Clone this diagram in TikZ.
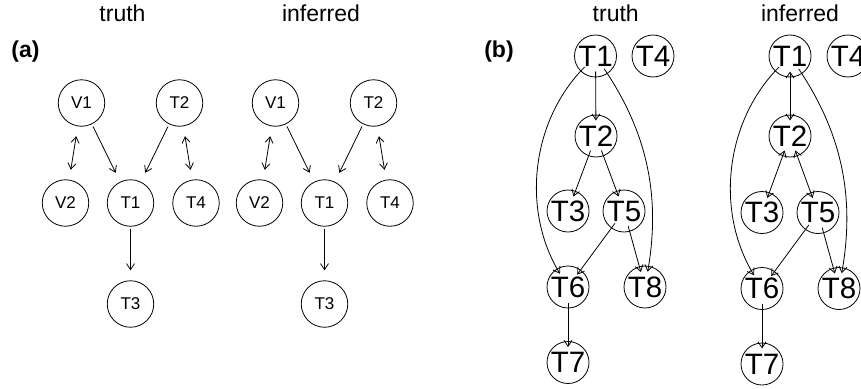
\documentclass[tikz,border=0pt]{standalone}
\usepackage{fontspec}
\setmainfont{Liberation Sans}
\usetikzlibrary{arrows.meta}
\tikzset{
  nda/.style={circle, draw, line width=0.8pt, minimum size=46.5pt, inner sep=0pt, font=\fontsize{17}{19}\selectfont},
  ndb/.style={circle, draw, line width=0.8pt, minimum size=42pt, inner sep=0pt, font=\fontsize{29.5}{31}\selectfont},
  barb/.tip={Straight Barb[length=6pt,width=8pt,line width=0.8pt]},
  ea/.style={line width=0.8pt, -barb, shorten <=2.5pt, shorten >=10pt},
  eaa/.style={line width=0.8pt, barb-barb, shorten <=10pt, shorten >=10pt},
  eb/.style={line width=0.8pt, -barb, shorten <=15.5pt, shorten >=15.5pt},
  ebb/.style={line width=0.8pt, barb-barb, shorten <=15.5pt, shorten >=15.5pt},
  ttl/.style={font=\fontsize{23}{25}\selectfont, anchor=base, inner sep=0pt},
  pnl/.style={font=\bfseries\fontsize{23}{25}\selectfont, anchor=base, inner sep=0pt}
}
\begin{document}
\begin{tikzpicture}[x=1pt,y=1pt]
\useasboundingbox (0,0) rectangle (861,-388);
% titles
\node[ttl] (ta) at (122.5,-21.7) {truth};
\node[ttl] (ia) at (321,-21.7) {inferred};
\node[ttl] (tb) at (615.7,-21.7) {truth};
\node[ttl] (ib) at (800,-21.7) {inferred};
\node[pnl] (pa) at (25.5,-57) {(a)};
\node[pnl] (pb) at (499,-57) {(b)};
% (a) truth
\node[nda] (aV1) at (81.5,-103) {V1};
\node[nda] (aT2) at (179.5,-103) {T2};
\node[nda] (aV2) at (65.5,-203) {V2};
\node[nda] (aT1) at (130.5,-203) {T1};
\node[nda] (aT4) at (196,-203) {T4};
\node[nda] (aT3) at (130.5,-304) {T3};
\draw[ea] (aV1) -- (aT1);
\draw[ea] (aT2) -- (aT1);
\draw[ea] (aT1) -- (aT3);
\draw[eaa] (aV1) -- (aV2);
\draw[eaa] (aT2) -- (aT4);
% (a) inferred
\node[nda] (iV1) at (275.5,-103) {V1};
\node[nda] (iT2) at (373.5,-103) {T2};
\node[nda] (iV2) at (259.5,-203) {V2};
\node[nda] (iT1) at (324.5,-203) {T1};
\node[nda] (iT4) at (390,-203) {T4};
\node[nda] (iT3) at (324.5,-304) {T3};
\draw[ea] (iV1) -- (iT1);
\draw[ea] (iT2) -- (iT1);
\draw[ea] (iT1) -- (iT3);
\draw[eaa] (iV1) -- (iV2);
\draw[eaa] (iT2) -- (iT4);
% (b) truth
\node[ndb] (bT1) at (595.5,-56) {T1};
\node[ndb] (bT4) at (653,-56) {T4};
\node[ndb] (bT2) at (596,-136) {T2};
\node[ndb] (bT3) at (568,-211) {T3};
\node[ndb] (bT5) at (624,-211) {T5};
\node[ndb] (bT6) at (568,-287) {T6};
\node[ndb] (bT8) at (645,-287) {T8};
\node[ndb] (bT7) at (568,-362.5) {T7};
\draw[eb] (bT1.center) -- (bT2.center);
\draw[eb] (bT2.center) -- (bT3.center);
\draw[eb] (bT2.center) -- (bT5.center);
\draw[eb] (bT5.center) -- (bT6.center);
\draw[eb] (bT5.center) -- (bT8.center);
\draw[eb] (bT6.center) -- (bT7.center);
\draw[eb] (bT1.center) to[bend right=38] (bT6.center);
\draw[eb] (bT1.center) to[bend left=22] (bT8.center);
% (b) inferred
\node[ndb] (cT1) at (790,-56) {T1};
\node[ndb] (cT4) at (848,-56) {T4};
\node[ndb] (cT2) at (790,-136) {T2};
\node[ndb] (cT3) at (762,-212.5) {T3};
\node[ndb] (cT5) at (818,-212.5) {T5};
\node[ndb] (cT6) at (762,-288.5) {T6};
\node[ndb] (cT8) at (839,-288.5) {T8};
\node[ndb] (cT7) at (762,-364) {T7};
\draw[ebb] (cT1.center) -- (cT2.center);
\draw[ebb] (cT2.center) -- (cT3.center);
\draw[ebb] (cT2.center) -- (cT5.center);
\draw[eb] (cT5.center) -- (cT6.center);
\draw[eb] (cT5.center) -- (cT8.center);
\draw[eb] (cT6.center) -- (cT7.center);
\draw[eb] (cT1.center) to[bend right=38] (cT6.center);
\draw[eb] (cT1.center) to[bend left=22] (cT8.center);
\end{tikzpicture}
\end{document}
